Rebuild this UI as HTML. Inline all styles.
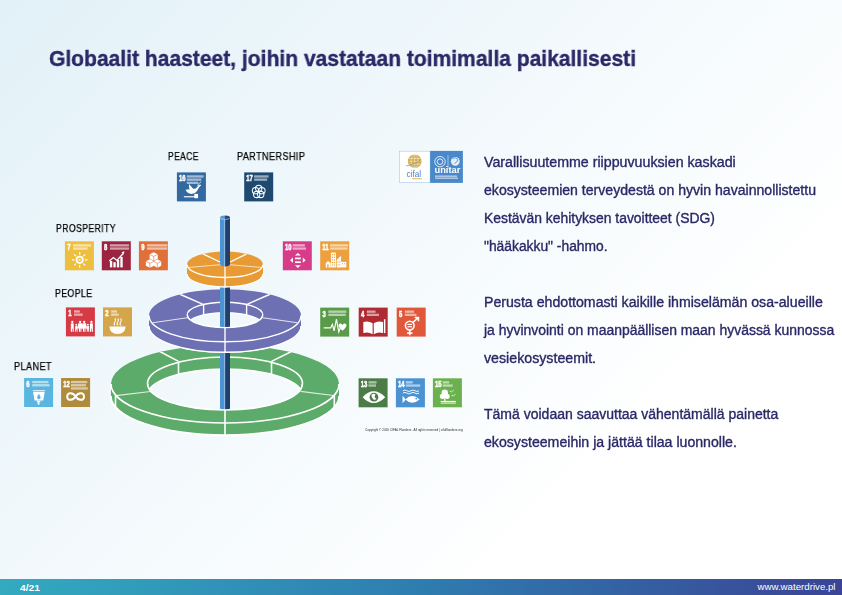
<!DOCTYPE html>
<html><head><meta charset="utf-8">
<style>
html,body{margin:0;padding:0;}
body{width:842px;height:595px;overflow:hidden;position:relative;font-family:"Liberation Sans",sans-serif;
background:linear-gradient(135deg,#e2f1f8 0%,#ffffff 75%);}
.t{position:absolute;white-space:nowrap;will-change:transform;}
#title{left:49px;top:43.5px;font-size:22.8px;transform:scaleX(0.923);-webkit-text-stroke:0.4px #2a2866;transform-origin:0 0;font-weight:bold;color:#2a2866;line-height:28px;}
.bl{position:absolute;will-change:transform;left:484px;font-size:13.8px;-webkit-text-stroke:0.35px #2a2866;line-height:28px;color:#2a2866;white-space:nowrap;transform-origin:0 0;}
#foot{position:absolute;left:0;top:579px;width:842px;height:16px;background:linear-gradient(90deg,#33aac0 0%,#2e7db0 50%,#3a4496 100%);}
#pg{position:absolute;left:20.2px;top:0.9px;font-size:9.4px;transform:scaleX(1.095);transform-origin:0 0;font-weight:bold;color:#fff;line-height:16px;}
#url{position:absolute;right:6.5px;top:0.3px;font-size:9.7px;color:#fff;line-height:16px;}
.lab{position:absolute;will-change:transform;transform-origin:0 0;font-size:10.1px;letter-spacing:0.45px;-webkit-text-stroke:0.25px #000;color:#000;white-space:nowrap;line-height:12px;}
.tile{position:absolute;width:29.5px;height:29.5px;}
</style></head><body>
<div id="title" class="t">Globaalit haasteet, joihin vastataan toimimalla paikallisesti</div>
<div class="bl" style="top:149px;transform:scaleX(1.03)">Varallisuutemme riippuvuuksien kaskadi</div>
<div class="bl" style="top:177px;transform:scaleX(1.021)">ekosysteemien terveydestä on hyvin havainnollistettu</div>
<div class="bl" style="top:205px;transform:scaleX(1.007)">Kestävän kehityksen tavoitteet (SDG)</div>
<div class="bl" style="top:233px;transform:scaleX(1.002)">"hääkakku" -hahmo.</div>
<div class="bl" style="top:289px;transform:scaleX(1.025)">Perusta ehdottomasti kaikille ihmiselämän osa-alueille</div>
<div class="bl" style="top:317px;transform:scaleX(1.01)">ja hyvinvointi on maanpäällisen maan hyvässä kunnossa</div>
<div class="bl" style="top:345px;transform:scaleX(1.029)">vesiekosysteemit.</div>
<div class="bl" style="top:401px;transform:scaleX(1.015)">Tämä voidaan saavuttaa vähentämällä painetta</div>
<div class="bl" style="top:429px;transform:scaleX(1.024)">ekosysteemeihin ja jättää tilaa luonnolle.</div>
<svg id="cake" width="842" height="595" viewBox="0 0 842 595" style="position:absolute;left:0;top:0;will-change:transform">
<!--CAKE-->
<clipPath id="h384"><ellipse cx="225" cy="383.5" rx="77.5" ry="26.5"/></clipPath>
<g clip-path="url(#h384)"><path fill="#5dab6a" fill-rule="evenodd" d="M147.5,383.5 a77.5,26.5 0 1,0 155,0 a77.5,26.5 0 1,0 -155,0 Z M147.5,395.5 a77.5,26.5 0 1,0 155,0 a77.5,26.5 0 1,0 -155,0 Z"/>
<path fill="none" stroke="#ffffff" stroke-width="1.6" d="M147.5,395.5 A77.5,26.5 0 0,1 302.5,395.5"/>
<line x1="178.5" y1="362.3" x2="178.5" y2="374.3" stroke="#ffffff" stroke-width="1.6"/>
<line x1="271.5" y1="362.3" x2="271.5" y2="374.3" stroke="#ffffff" stroke-width="1.6"/>
</g>
<path fill="#5dab6a" d="M111,384 A114,39 0 0,0 339,384 L339,396 A114,39 0 0,1 111,396 Z"/>
<path fill="none" stroke="#ffffff" stroke-width="1.6" d="M111,396 A114,39 0 0,0 339,396"/>
<path fill="#5dab6a" fill-rule="evenodd" d="M111,384 a114,39 0 1,0 228,0 a114,39 0 1,0 -228,0 Z M147.5,383.5 a77.5,26.5 0 1,0 155,0 a77.5,26.5 0 1,0 -155,0 Z"/>
<path fill="none" stroke="#ffffff" stroke-width="1.6" d="M111,384 A114,39 0 0,0 339,384"/>
<ellipse cx="225" cy="383.5" rx="77.5" ry="26.5" fill="none" stroke="#ffffff" stroke-width="1.6"/>
<clipPath id="oc1"><path d="M111,384 a114,39 0 1,0 228,0 a114,39 0 1,0 -228,0 Z M111,384 L111,396 A114,39 0 0,0 339,396 L339,384 Z"/></clipPath><g clip-path="url(#oc1)">
<line x1="158.9" y1="351" x2="178.5" y2="361.4" stroke="#ffffff" stroke-width="1.6"/>
<line x1="291.9" y1="351.2" x2="271.5" y2="361.4" stroke="#ffffff" stroke-width="1.6"/>
<line x1="115.9" y1="395.7" x2="150.5" y2="391.5" stroke="#ffffff" stroke-width="1.2" opacity="0.8"/>
<line x1="333.5" y1="395.5" x2="300.5" y2="391.3" stroke="#ffffff" stroke-width="1.2" opacity="0.8"/>
<line x1="225" y1="410" x2="225" y2="436" stroke="#ffffff" stroke-width="1.6"/>
</g>
<line x1="115.5" y1="396" x2="115.5" y2="407" stroke="#ffffff" stroke-width="1.6"/>
<line x1="334.3" y1="396" x2="334.3" y2="407" stroke="#ffffff" stroke-width="1.6"/>
<path d="M220,217.5 L220,408 Q220,409.5 222,410.1 L225,410.5 L225,217.5 Z" fill="#4d92d2"/>
<path d="M225,217.5 L225,410.5 L228,410.1 Q230,409.5 230,408 L230,217.5 Z" fill="#1f3f6d"/>
<line x1="224.7" y1="217.5" x2="224.7" y2="410.5" stroke="#bcd4ee" stroke-width="0.7"/>
<clipPath id="gfront"><rect x="0" y="383.5" width="842" height="200"/></clipPath>
<g clip-path="url(#gfront)">
<path fill="#5dab6a" d="M111,384 A114,39 0 0,0 339,384 L339,396 A114,39 0 0,1 111,396 Z"/>
<path fill="none" stroke="#ffffff" stroke-width="1.6" d="M111,396 A114,39 0 0,0 339,396"/>
<path fill="#5dab6a" fill-rule="evenodd" d="M111,384 a114,39 0 1,0 228,0 a114,39 0 1,0 -228,0 Z M147.5,383.5 a77.5,26.5 0 1,0 155,0 a77.5,26.5 0 1,0 -155,0 Z"/>
<path fill="none" stroke="#ffffff" stroke-width="1.6" d="M111,384 A114,39 0 0,0 339,384"/>
<ellipse cx="225" cy="383.5" rx="77.5" ry="26.5" fill="none" stroke="#ffffff" stroke-width="1.6"/>
<clipPath id="oc2"><path d="M111,384 a114,39 0 1,0 228,0 a114,39 0 1,0 -228,0 Z M111,384 L111,396 A114,39 0 0,0 339,396 L339,384 Z"/></clipPath><g clip-path="url(#oc2)">
<line x1="115.9" y1="395.7" x2="150.5" y2="391.5" stroke="#ffffff" stroke-width="1.2" opacity="0.8"/>
<line x1="333.5" y1="395.5" x2="300.5" y2="391.3" stroke="#ffffff" stroke-width="1.2" opacity="0.8"/>
<line x1="225" y1="410" x2="225" y2="436" stroke="#ffffff" stroke-width="1.6"/>
</g>
<line x1="115.5" y1="396" x2="115.5" y2="407" stroke="#ffffff" stroke-width="1.6"/>
<line x1="334.3" y1="396" x2="334.3" y2="407" stroke="#ffffff" stroke-width="1.6"/>
</g>
<clipPath id="h315"><ellipse cx="225" cy="314.9" rx="37.8" ry="12.7"/></clipPath>
<g clip-path="url(#h315)"><path fill="#6d70b2" fill-rule="evenodd" d="M187.2,314.9 a37.8,12.7 0 1,0 75.6,0 a37.8,12.7 0 1,0 -75.6,0 Z M187.2,325.4 a37.8,12.7 0 1,0 75.6,0 a37.8,12.7 0 1,0 -75.6,0 Z"/>
<path fill="none" stroke="#ffffff" stroke-width="1.4" d="M187.2,325.4 A37.8,12.7 0 0,1 262.8,325.4"/>
<line x1="203.6" y1="304.43" x2="203.6" y2="314.93" stroke="#ffffff" stroke-width="1.4"/>
<line x1="246.6" y1="304.48" x2="246.6" y2="314.98" stroke="#ffffff" stroke-width="1.4"/>
</g>
<path fill="#6d70b2" d="M149,315.5 A76,26.3 0 0,0 301,315.5 L301,326 A76,26.3 0 0,1 149,326 Z"/>
<path fill="none" stroke="#ffffff" stroke-width="1.4" d="M149,326 A76,26.3 0 0,0 301,326"/>
<path fill="#6d70b2" fill-rule="evenodd" d="M149,315.5 a76,26.3 0 1,0 152,0 a76,26.3 0 1,0 -152,0 Z M187.2,314.9 a37.8,12.7 0 1,0 75.6,0 a37.8,12.7 0 1,0 -75.6,0 Z"/>
<path fill="none" stroke="#ffffff" stroke-width="1.4" d="M149,315.5 A76,26.3 0 0,0 301,315.5"/>
<ellipse cx="225" cy="314.9" rx="37.8" ry="12.7" fill="none" stroke="#ffffff" stroke-width="1.4"/>
<clipPath id="oc3"><path d="M149,315.5 a76,26.3 0 1,0 152,0 a76,26.3 0 1,0 -152,0 Z M149,315.5 L149,326 A76,26.3 0 0,0 301,326 L301,315.5 Z"/></clipPath><g clip-path="url(#oc3)">
<line x1="179.4" y1="294" x2="202.6" y2="304.2" stroke="#ffffff" stroke-width="1.4"/>
<line x1="270.6" y1="294" x2="247.4" y2="304.2" stroke="#ffffff" stroke-width="1.4"/>
<line x1="152.6" y1="322.8" x2="187.3" y2="317.8" stroke="#ffffff" stroke-width="1.05" opacity="0.8"/>
<line x1="297.4" y1="322.8" x2="262.7" y2="317.8" stroke="#ffffff" stroke-width="1.05" opacity="0.8"/>
<line x1="225" y1="327.4" x2="225" y2="353" stroke="#ffffff" stroke-width="1.4"/>
</g>
<path d="M220,217.5 L220,325.3 Q220,326.8 222,327.4 L225,327.8 L225,217.5 Z" fill="#4d92d2"/>
<path d="M225,217.5 L225,327.8 L228,327.4 Q230,326.8 230,325.3 L230,217.5 Z" fill="#1f3f6d"/>
<line x1="224.7" y1="217.5" x2="224.7" y2="327.8" stroke="#bcd4ee" stroke-width="0.7"/>
<clipPath id="pfront"><rect x="0" y="314.9" width="842" height="100"/></clipPath>
<g clip-path="url(#pfront)">
<path fill="#6d70b2" d="M149,315.5 A76,26.3 0 0,0 301,315.5 L301,326 A76,26.3 0 0,1 149,326 Z"/>
<path fill="none" stroke="#ffffff" stroke-width="1.4" d="M149,326 A76,26.3 0 0,0 301,326"/>
<path fill="#6d70b2" fill-rule="evenodd" d="M149,315.5 a76,26.3 0 1,0 152,0 a76,26.3 0 1,0 -152,0 Z M187.2,314.9 a37.8,12.7 0 1,0 75.6,0 a37.8,12.7 0 1,0 -75.6,0 Z"/>
<path fill="none" stroke="#ffffff" stroke-width="1.4" d="M149,315.5 A76,26.3 0 0,0 301,315.5"/>
<ellipse cx="225" cy="314.9" rx="37.8" ry="12.7" fill="none" stroke="#ffffff" stroke-width="1.4"/>
<clipPath id="oc4"><path d="M149,315.5 a76,26.3 0 1,0 152,0 a76,26.3 0 1,0 -152,0 Z M149,315.5 L149,326 A76,26.3 0 0,0 301,326 L301,315.5 Z"/></clipPath><g clip-path="url(#oc4)">
<line x1="152.6" y1="322.8" x2="187.3" y2="317.8" stroke="#ffffff" stroke-width="1.05" opacity="0.8"/>
<line x1="297.4" y1="322.8" x2="262.7" y2="317.8" stroke="#ffffff" stroke-width="1.05" opacity="0.8"/>
<line x1="225" y1="327.4" x2="225" y2="353" stroke="#ffffff" stroke-width="1.4"/>
</g>
</g>
<path fill="#e89a35" d="M187,264.5 A38,13 0 0,0 263,264.5 L263,274 A38,13 0 0,1 187,274 Z"/>
<path fill="none" stroke="#ffffff" stroke-width="1.3" d="M187,274 A38,13 0 0,0 263,274"/>
<path fill="#e89a35" fill-rule="evenodd" d="M187,264.5 a38,13 0 1,0 76,0 a38,13 0 1,0 -76,0 Z"/>
<path fill="none" stroke="#ffffff" stroke-width="1.3" d="M187,264.5 A38,13 0 0,0 263,264.5"/>
<clipPath id="oc5"><path d="M187,264.5 a38,13 0 1,0 76,0 a38,13 0 1,0 -76,0 Z M187,264.5 L187,274 A38,13 0 0,0 263,274 L263,264.5 Z"/></clipPath><g clip-path="url(#oc5)">
<line x1="203" y1="253.8" x2="225" y2="264.5" stroke="#ffffff" stroke-width="1.3"/>
<line x1="246.3" y1="254.2" x2="225" y2="264.5" stroke="#ffffff" stroke-width="1.3"/>
<line x1="225" y1="264.5" x2="225" y2="287" stroke="#ffffff" stroke-width="1.3"/>
</g>
<path d="M188,267.5 L225,264.3 L262,267.5" fill="none" stroke="#fff" stroke-width="0.9" opacity="0.75"/>
<path d="M220,217.5 L220,264 Q220,265.5 222,266.1 L225,266.5 L225,217.5 Z" fill="#4d92d2"/>
<path d="M225,217.5 L225,266.5 L228,266.1 Q230,265.5 230,264 L230,217.5 Z" fill="#1f3f6d"/>
<line x1="224.7" y1="217.5" x2="224.7" y2="266.5" stroke="#bcd4ee" stroke-width="0.7"/>
<path d="M220,217.5 A5,2 0 0,1 225,215.5 V219.5 A5,2 0 0,1 220,217.5Z" fill="#5a9ad6"/>
<path d="M230,217.5 A5,2 0 0,0 225,215.5 V219.5 A5,2 0 0,0 230,217.5Z" fill="#274a7a"/>
<path d="M220,217.5 A5,2 0 0,0 230,217.5" fill="none" stroke="#c9dcf0" stroke-width="0.6"/>
<!--/CAKE-->
<!--LOGO-->
<rect x="399.3" y="150.9" width="30.8" height="32" fill="#ffffff"/>
<rect x="399.6" y="151.2" width="30.5" height="31.4" fill="none" stroke="#a9c4e4" stroke-width="0.6"/>
<rect x="430.1" y="150.9" width="32.8" height="32" fill="#4a89c9"/>
<circle cx="414.7" cy="161.3" r="6.8" fill="#d3a94a"/>
<g fill="none" stroke="#fff6df" stroke-width="0.5"><path d="M409,158.5 h11.4 M408.5,161.3 h12.4 M409,164 h11.4 M414.7,154.6 v13.4"/><ellipse cx="414.7" cy="161.3" rx="3.5" ry="6.6"/></g>
<path d="M406,166 q6,-1 14,-5" fill="none" stroke="#6b93c8" stroke-width="0.7"/>
<text x="406.6" y="176.6" font-family="Liberation Sans" font-size="8.6" fill="#4a7ec0" transform="translate(406.6,0) scale(0.95,1) translate(-406.6,0)">cifal</text>
<rect x="412" y="178" width="10" height="1.3" fill="#e0b860" opacity="0.8"/>
<g fill="none" stroke="#ffffff" stroke-width="0.8"><circle cx="440" cy="161.7" r="5.2"/><circle cx="440" cy="161.7" r="2.8"/><path d="M448,155 v13" stroke-width="0.5"/></g>
<g fill="#ffffff"><circle cx="455.3" cy="161.3" r="4.4" opacity="0.85"/></g>
<path d="M452.5,158.5 q3,-2 5.5,1 q-1,3 -3.5,4" fill="none" stroke="#4a89c9" stroke-width="0.8"/>
<text x="434.5" y="173.2" font-family="Liberation Sans" font-weight="bold" font-size="9.6" fill="#ffffff" transform="translate(434.5,0) scale(0.97,1) translate(-434.5,0)">unitar</text>
<rect x="435" y="175.6" width="22" height="1.1" fill="#ffffff" opacity="0.75"/>
<rect x="435" y="177.6" width="23" height="1.1" fill="#ffffff" opacity="0.75"/>
<text x="365" y="431.3" font-family="Liberation Sans" font-size="3.2" fill="#2a2a2a" textLength="97.6" lengthAdjust="spacingAndGlyphs">Copyright © 2016 CIFAL Flanders . All rights reserved | cifalflanders.org</text>
<!--/LOGO-->
<!--TILES-->
<g transform="translate(176.9,172.4) scale(0.29)">
<rect width="100" height="100" fill="#3169a0"/>
<text x="12" y="31" font-family="Liberation Sans" font-weight="bold" font-size="34" fill="#ffffff" stroke="#ffffff" stroke-width="1.8" transform="scale(0.6,1)">16</text>
<rect x="34" y="10" width="58" height="8" fill="#ffffff" opacity="0.55"/>
<rect x="34" y="21" width="50" height="8" fill="#ffffff" opacity="0.55"/>
<rect x="34" y="32" width="40" height="8" fill="#ffffff" opacity="0.55"/>
<path d="M30,60 q6,16 24,14 q12,-2 18,-14 l4,-8 q3,-5 8,-7 l-4,-3 q-6,1 -10,8 q-6,8 -14,6 l-14,-16 q-2,10 2,18 z" fill="#fff"/>
<path d="M70,46 q8,-10 14,-14" fill="none" stroke="#fff" stroke-width="2.5"/>
<rect x="24" y="82" width="40" height="4" fill="#fff"/><rect x="60" y="74" width="13" height="15" fill="#fff"/>
</g>
<g transform="translate(244.2,172.4) scale(0.29)">
<rect width="100" height="100" fill="#1f4a70"/>
<text x="12" y="31" font-family="Liberation Sans" font-weight="bold" font-size="34" fill="#ffffff" stroke="#ffffff" stroke-width="1.8" transform="scale(0.6,1)">17</text>
<rect x="34" y="10" width="50" height="8" fill="#ffffff" opacity="0.55"/>
<rect x="34" y="21" width="45" height="8" fill="#ffffff" opacity="0.55"/>
<g fill="none" stroke="#fff" stroke-width="3.5"><circle cx="50" cy="55" r="11"/><circle cx="61" cy="63" r="11"/><circle cx="57" cy="76" r="11"/><circle cx="43" cy="76" r="11"/><circle cx="39" cy="63" r="11"/></g>
</g>
<g transform="translate(64.9,241.3) scale(0.29)">
<rect width="100" height="100" fill="#eebf3f"/>
<text x="13" y="31" font-family="Liberation Sans" font-weight="bold" font-size="34" fill="#ffffff" stroke="#ffffff" stroke-width="1.8" transform="scale(0.6,1)">7</text>
<rect x="28" y="10" width="62" height="8" fill="#ffffff" opacity="0.55"/>
<rect x="28" y="21" width="50" height="8" fill="#ffffff" opacity="0.55"/>
<circle cx="51" cy="64" r="11" fill="none" stroke="#fff" stroke-width="6"/><circle cx="51" cy="64" r="4" fill="#fff" opacity="0.8"/>
<g stroke="#fff" stroke-width="4"><path d="M51,46 v-9 M51,82 v9 M33,64 h-9 M69,64 h9 M38,51 l-6,-6 M64,77 l6,6 M64,51 l6,-6 M38,77 l-6,6"/></g>
</g>
<g transform="translate(101.8,241.3) scale(0.29)">
<rect width="100" height="100" fill="#9b2540"/>
<text x="13" y="31" font-family="Liberation Sans" font-weight="bold" font-size="34" fill="#ffffff" stroke="#ffffff" stroke-width="1.8" transform="scale(0.6,1)">8</text>
<rect x="28" y="10" width="66" height="8" fill="#ffffff" opacity="0.55"/>
<rect x="28" y="21" width="66" height="8" fill="#ffffff" opacity="0.55"/>
<g fill="#fff"><rect x="28" y="68" width="8" height="22"/><rect x="40" y="72" width="8" height="18"/><rect x="52" y="64" width="8" height="26"/><rect x="64" y="54" width="8" height="36"/></g>
<path d="M26,68 l14,-12 l12,10 l22,-24" fill="none" stroke="#fff" stroke-width="4.5"/><path d="M68,38 l10,-4 l-2,11 z" fill="#fff"/>
</g>
<g transform="translate(138.9,241.3) scale(0.29)">
<rect width="100" height="100" fill="#e0703a"/>
<text x="13" y="31" font-family="Liberation Sans" font-weight="bold" font-size="34" fill="#ffffff" stroke="#ffffff" stroke-width="1.8" transform="scale(0.6,1)">9</text>
<rect x="28" y="10" width="70" height="8" fill="#ffffff" opacity="0.55"/>
<rect x="28" y="21" width="70" height="8" fill="#ffffff" opacity="0.55"/>
<g fill="#fff"><path d="M51,38 l14,7 v15 l-14,7 l-14,-7 v-15 z"/><path d="M38,62 l14,7 v15 l-14,7 l-14,-7 v-15 z"/><path d="M64,62 l13,7 v15 l-13,7 l-13,-7 v-15 z"/></g>
<g fill="none" stroke="#e0703a" stroke-width="2"><path d="M37,45 l14,7 l14,-7 M51,52 v15 M24,69 l14,7 l14,-7 M38,76 v15 M51,69 l13,7 l13,-7 M64,76 v15"/></g>
</g>
<g transform="translate(282.8,241.3) scale(0.29)">
<rect width="100" height="100" fill="#d63c8a"/>
<text x="12" y="31" font-family="Liberation Sans" font-weight="bold" font-size="34" fill="#ffffff" stroke="#ffffff" stroke-width="1.8" transform="scale(0.6,1)">10</text>
<rect x="34" y="10" width="42" height="8" fill="#ffffff" opacity="0.55"/>
<rect x="34" y="21" width="46" height="8" fill="#ffffff" opacity="0.55"/>
<g fill="#fff"><rect x="42" y="56" width="20" height="6"/><rect x="42" y="69" width="20" height="6"/><path d="M52,40 l10,9 h-20z M52,92 l10,-9 h-20z M25,65 l10,-9 v18z M79,65 l-10,-9 v18z"/></g>
</g>
<g transform="translate(320.2,241.3) scale(0.29)">
<rect width="100" height="100" fill="#eda03e"/>
<text x="12" y="31" font-family="Liberation Sans" font-weight="bold" font-size="34" fill="#ffffff" stroke="#ffffff" stroke-width="1.8" transform="scale(0.6,1)">11</text>
<rect x="34" y="10" width="62" height="8" fill="#ffffff" opacity="0.55"/>
<rect x="34" y="21" width="60" height="8" fill="#ffffff" opacity="0.55"/>
<g fill="#fff"><rect x="37" y="39" width="17" height="51"/><path d="M57,90 v-26 l15,-14 v40z"/><rect x="72" y="71" width="18" height="19"/><path d="M19,90 v-14 l8,-8 l9,8 v14z"/></g>
<g fill="#eda03e"><rect x="40" y="44" width="4" height="4"/><rect x="47" y="44" width="4" height="4"/><rect x="40" y="53" width="4" height="4"/><rect x="47" y="53" width="4" height="4"/><rect x="40" y="62" width="4" height="4"/><rect x="47" y="62" width="4" height="4"/><rect x="40" y="71" width="4" height="4"/><rect x="47" y="71" width="4" height="4"/><rect x="40" y="80" width="4" height="4"/><rect x="47" y="80" width="4" height="4"/><rect x="60" y="70" width="3" height="4"/><rect x="66" y="70" width="3" height="4"/><rect x="60" y="79" width="3" height="4"/><rect x="66" y="79" width="3" height="4"/><rect x="75" y="75" width="3" height="4"/><rect x="83" y="75" width="3" height="4"/><rect x="24" y="80" width="5" height="10"/></g>
</g>
<g transform="translate(65.9,307.4) scale(0.29)">
<rect width="100" height="100" fill="#d63a45"/>
<text x="13" y="31" font-family="Liberation Sans" font-weight="bold" font-size="34" fill="#ffffff" stroke="#ffffff" stroke-width="1.8" transform="scale(0.6,1)">1</text>
<rect x="28" y="10" width="20" height="8" fill="#ffffff" opacity="0.55"/>
<rect x="28" y="21" width="30" height="8" fill="#ffffff" opacity="0.55"/>
<g fill="#fff">
<circle cx="22" cy="50" r="4"/><rect x="17" y="55" width="10" height="18" rx="2"/><rect x="17" y="71" width="4" height="13"/><rect x="23" y="71" width="4" height="13"/>
<circle cx="36" cy="60" r="3.2"/><rect x="32" y="64" width="8" height="12" rx="2"/><rect x="32" y="74" width="3" height="10"/><rect x="37" y="74" width="3" height="10"/>
<circle cx="49" cy="50" r="4"/><path d="M43,55 h12 l4,18 h-20 z"/><rect x="45" y="71" width="3.5" height="13"/><rect x="50" y="71" width="3.5" height="13"/>
<circle cx="63" cy="50" r="4"/><path d="M57,55 h12 l4,18 h-20 z"/><rect x="59" y="71" width="3.5" height="13"/><rect x="64" y="71" width="3.5" height="13"/>
<circle cx="76" cy="60" r="3.2"/><rect x="72" y="64" width="8" height="12" rx="2"/><rect x="72" y="74" width="3" height="10"/><rect x="77" y="74" width="3" height="10"/>
<circle cx="88" cy="50" r="4"/><rect x="83" y="55" width="10" height="18" rx="2"/><rect x="83" y="71" width="4" height="13"/><rect x="89" y="71" width="4" height="13"/>
</g>
</g>
<g transform="translate(103,307.4) scale(0.29)">
<rect width="100" height="100" fill="#d4a54a"/>
<text x="13" y="31" font-family="Liberation Sans" font-weight="bold" font-size="34" fill="#ffffff" stroke="#ffffff" stroke-width="1.8" transform="scale(0.6,1)">2</text>
<rect x="28" y="10" width="20" height="8" fill="#ffffff" opacity="0.55"/>
<rect x="28" y="21" width="26" height="8" fill="#ffffff" opacity="0.55"/>
<g fill="none" stroke="#fff" stroke-width="3.5"><path d="M41,62 q-5,-6 0,-12 q5,-6 0,-12"/><path d="M51,62 q-5,-6 0,-12 q5,-6 0,-12"/><path d="M61,62 q-5,-6 0,-12 q5,-6 0,-12"/></g>
<path d="M22,66 h56 q-2,26 -28,26 q-26,0 -28,-26 z" fill="#fff"/>
</g>
<g transform="translate(320.2,307.6) scale(0.29)">
<rect width="100" height="100" fill="#5a9b4a"/>
<text x="13" y="31" font-family="Liberation Sans" font-weight="bold" font-size="34" fill="#ffffff" stroke="#ffffff" stroke-width="1.8" transform="scale(0.6,1)">3</text>
<rect x="28" y="10" width="62" height="8" fill="#ffffff" opacity="0.55"/>
<rect x="28" y="21" width="60" height="8" fill="#ffffff" opacity="0.55"/>
<path d="M12,70 h24 l6,-12 l6,22 l8,-40 l8,44 l5,-14 h5" fill="none" stroke="#fff" stroke-width="4"/>
<path d="M77,60 q7,-9 13,-2 q4,7 -13,22 q-17,-15 -13,-22 q6,-7 13,2z" fill="#fff"/>
</g>
<g transform="translate(358.7,307.6) scale(0.29)">
<rect width="100" height="100" fill="#b02a32"/>
<text x="13" y="31" font-family="Liberation Sans" font-weight="bold" font-size="34" fill="#ffffff" stroke="#ffffff" stroke-width="1.8" transform="scale(0.6,1)">4</text>
<rect x="28" y="10" width="30" height="8" fill="#ffffff" opacity="0.55"/>
<rect x="28" y="21" width="42" height="8" fill="#ffffff" opacity="0.55"/>
<path d="M16,50 q17,-6 32,4 v38 q-15,-10 -32,-4 z M52,54 q15,-10 32,-4 v38 q-17,-6 -32,4 z" fill="#fff"/>
<rect x="87" y="40" width="5" height="48" fill="#fff"/>
</g>
<g transform="translate(396.7,307.6) scale(0.29)">
<rect width="100" height="100" fill="#e0573a"/>
<text x="13" y="31" font-family="Liberation Sans" font-weight="bold" font-size="34" fill="#ffffff" stroke="#ffffff" stroke-width="1.8" transform="scale(0.6,1)">5</text>
<rect x="28" y="10" width="32" height="8" fill="#ffffff" opacity="0.55"/>
<rect x="28" y="21" width="40" height="8" fill="#ffffff" opacity="0.55"/>
<g fill="none" stroke="#fff" stroke-width="5.5"><circle cx="45" cy="62" r="15"/><path d="M45,77 v18 M36,88 h18 M56,51 l18,-16 M62,34 h13 v13"/></g>
<rect x="37" y="56" width="16" height="4" fill="#fff"/><rect x="37" y="64" width="16" height="4" fill="#fff"/>
</g>
<g transform="translate(24.1,378) scale(0.29)">
<rect width="100" height="100" fill="#5ab5e0"/>
<text x="13" y="31" font-family="Liberation Sans" font-weight="bold" font-size="34" fill="#ffffff" stroke="#ffffff" stroke-width="1.8" transform="scale(0.6,1)">6</text>
<rect x="28" y="10" width="56" height="8" fill="#ffffff" opacity="0.55"/>
<rect x="28" y="21" width="60" height="8" fill="#ffffff" opacity="0.55"/>
<path d="M30,42 h42 l-6,36 h-30 z" fill="#fff"/><rect x="44" y="78" width="12" height="6" fill="#fff"/><rect x="47" y="84" width="6" height="8" fill="#fff"/>
<path d="M51,54 q-6,9 -6,13 a6,6 0 0,0 12,0 q0,-4 -6,-13z" fill="#5ab5e0"/><rect x="30" y="45" width="42" height="2.5" fill="#5ab5e0"/>
</g>
<g transform="translate(61.1,378) scale(0.29)">
<rect width="100" height="100" fill="#b08b3c"/>
<text x="12" y="31" font-family="Liberation Sans" font-weight="bold" font-size="34" fill="#ffffff" stroke="#ffffff" stroke-width="1.8" transform="scale(0.6,1)">12</text>
<rect x="34" y="10" width="56" height="8" fill="#ffffff" opacity="0.55"/>
<rect x="34" y="21" width="52" height="8" fill="#ffffff" opacity="0.55"/>
<rect x="34" y="32" width="58" height="8" fill="#ffffff" opacity="0.55"/>
<path d="M50,64 c-8,-13 -29,-17 -29,0 c0,17 21,13 29,0 c8,-13 29,-17 29,0 c0,17 -21,13 -29,0z" fill="none" stroke="#fff" stroke-width="7"/>
</g>
<g transform="translate(358.6,378.3) scale(0.29)">
<rect width="100" height="100" fill="#4b7c48"/>
<text x="12" y="31" font-family="Liberation Sans" font-weight="bold" font-size="34" fill="#ffffff" stroke="#ffffff" stroke-width="1.8" transform="scale(0.6,1)">13</text>
<rect x="34" y="10" width="28" height="8" fill="#ffffff" opacity="0.55"/>
<rect x="34" y="21" width="26" height="8" fill="#ffffff" opacity="0.55"/>
<path d="M14,65 q37,-40 78,0 q-41,40 -78,0z" fill="#fff"/><circle cx="53" cy="65" r="15" fill="#4b7c48"/><path d="M44,58 q8,-8 14,-2 l-3,9 l7,6 l-9,4 l-7,-9z" fill="#fff"/>
</g>
<g transform="translate(395.9,378.3) scale(0.29)">
<rect width="100" height="100" fill="#4a92d2"/>
<text x="12" y="31" font-family="Liberation Sans" font-weight="bold" font-size="34" fill="#ffffff" stroke="#ffffff" stroke-width="1.8" transform="scale(0.6,1)">14</text>
<rect x="34" y="10" width="24" height="8" fill="#ffffff" opacity="0.55"/>
<rect x="34" y="21" width="50" height="8" fill="#ffffff" opacity="0.55"/>
<g fill="none" stroke="#fff" stroke-width="3.2"><path d="M24,43 q7,-5 14,0 q7,5 14,0 q7,-5 14,0 q7,5 14,0"/><path d="M24,51 q7,-5 14,0 q7,5 14,0 q7,-5 14,0 q7,5 14,0"/></g>
<path d="M32,73 q24,-24 50,0 q-26,22 -50,0z M34,73 l-11,-13 v26z" fill="#fff"/><circle cx="70" cy="70" r="3" fill="#4a92d2"/>
</g>
<g transform="translate(432.9,378.3) scale(0.29)">
<rect width="100" height="100" fill="#6bb24e"/>
<text x="12" y="31" font-family="Liberation Sans" font-weight="bold" font-size="34" fill="#ffffff" stroke="#ffffff" stroke-width="1.8" transform="scale(0.6,1)">15</text>
<rect x="34" y="10" width="22" height="8" fill="#ffffff" opacity="0.55"/>
<rect x="34" y="21" width="34" height="8" fill="#ffffff" opacity="0.55"/>
<g fill="#fff"><circle cx="41" cy="50" r="11"/><circle cx="33" cy="62" r="9"/><circle cx="49" cy="62" r="9"/><rect x="39" y="62" width="4" height="17"/><rect x="27" y="78" width="52" height="4"/><rect x="27" y="84" width="52" height="3"/></g>
<path d="M58,44 l6,3 l8,-6 M64,58 l6,3 l8,-6" fill="none" stroke="#fff" stroke-width="2.5"/>
</g>
<!--/TILES-->
</svg>
<div class="lab" id="l1" style="transform:scaleX(0.845);left:167.8px;top:151px">PEACE</div>
<div class="lab" id="l2" style="transform:scaleX(0.9);left:237.3px;top:151px">PARTNERSHIP</div>
<div class="lab" id="l3" style="transform:scaleX(0.86);left:55.8px;top:223px">PROSPERITY</div>
<div class="lab" id="l4" style="transform:scaleX(0.87);left:55.1px;top:288px">PEOPLE</div>
<div class="lab" id="l5" style="transform:scaleX(0.905);left:13.6px;top:361px">PLANET</div>
<div id="foot"><div id="pg">4/21</div><div id="url">www.waterdrive.pl</div></div>
</body></html>
